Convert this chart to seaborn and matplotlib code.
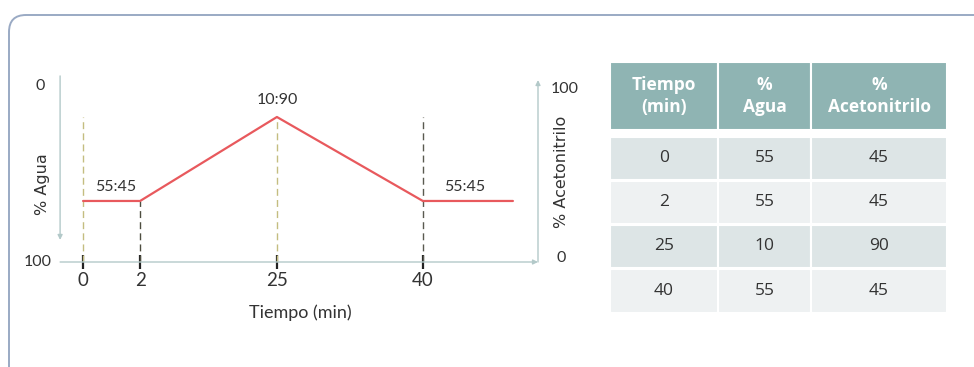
import numpy as np
import pandas as pd
import matplotlib.pyplot as plt
from matplotlib.patches import FancyBboxPatch, Rectangle
import seaborn as sns

# datos del gradiente
tiempo = [0, 2, 25, 40]
agua = [55, 55, 10, 55]
acetonitrilo = [45, 45, 90, 45]
# posicion esquematica de cada tiempo en el eje (el dibujo no esta a escala)
x_pos = [0, 1, 3.4, 5.96]
x_fin = 7.54
etiquetas = ['55:45', '10:90', '55:45']
encabezados = ['Tiempo\n(min)', '%\nAgua', '%\nAcetonitrilo']

sns.set_style('white')
plt.rcParams['font.family'] = ['Lato', 'DejaVu Sans']

W, H = 974, 367
fig = plt.figure(figsize=(W / 100, H / 100), dpi=100)

# capa de fondo en pixeles: marco redondeado y tabla
bg = fig.add_axes([0, 0, 1, 1], zorder=0)
bg.set_xlim(0, W)
bg.set_ylim(H, 0)
bg.axis('off')
bg.add_patch(FancyBboxPatch((9, 15), 1000, 380,
                            boxstyle='round,pad=0,rounding_size=17',
                            fc='white', ec='#9aaac4', lw=1.4))

col_x = [610, 718, 811, 947]
head_y = (62, 130)
row_y = [(137, 180), (181, 224), (225, 268), (269, 313)]
row_col = ['#dde5e6', '#eef1f2', '#dde5e6', '#eef1f2']
tabla = list(zip(tiempo, agua, acetonitrilo))

for j, txt in enumerate(encabezados):
    x0, x1 = col_x[j], col_x[j + 1]
    bg.add_patch(Rectangle((x0, head_y[0]), x1 - x0, head_y[1] - head_y[0],
                           fc='#8fb4b3', ec='white', lw=1.5))
    bg.text((x0 + x1) / 2, sum(head_y) / 2, txt, ha='center', va='center',
            color='white', fontsize=12.5, fontweight='bold',
            family='Open Sans', linespacing=1.3)

for i, fila in enumerate(tabla):
    y0, y1 = row_y[i]
    for j, val in enumerate(fila):
        x0, x1 = col_x[j], col_x[j + 1]
        bg.add_patch(Rectangle((x0, y0), x1 - x0, y1 - y0,
                               fc=row_col[i], ec='white', lw=1.5))
        bg.text((x0 + x1) / 2, (y0 + y1) / 2, str(val), ha='center',
                va='center', color='#333333', fontsize=12.5, family='Open Sans')

# grafico del gradiente
ax = fig.add_axes([62 / W, 1 - 262 / H, 476 / W, 187 / H], zorder=1)
ax.patch.set_alpha(0)
ymin, ymax = 12.3, 112.5
ax.set_xlim(-0.37, 7.98)
ax.set_ylim(ymin, ymax)

df = pd.DataFrame({'x': x_pos + [x_fin],
                   'acn': acetonitrilo + [acetonitrilo[-1]]})
sns.lineplot(data=df, x='x', y='acn', color='#e8595d', lw=1.6, ax=ax,
             sort=False, zorder=3)

dash_full = [True, False, True, True]
dash_col = ['#c4bd80', '#4d4d3f', '#c4bd80', '#5a5a50']
for x, y, full, c in zip(x_pos, acetonitrilo, dash_full, dash_col):
    top = max(acetonitrilo) if full else y
    ax.vlines(x, ymin, top, colors=c, linestyles=(0, (5, 3)), lw=1.0, zorder=2)

# etiquetas de composicion
ax.annotate(etiquetas[0], ((x_pos[0] + x_pos[1]) / 2, acetonitrilo[0]),
            xytext=(3, 10), textcoords='offset points', ha='center',
            va='center', fontsize=11.5, color='#333333')
ax.annotate(etiquetas[1], (x_pos[2], acetonitrilo[2]),
            xytext=(0, 12), textcoords='offset points', ha='center',
            va='center', fontsize=11.5, color='#333333')
ax.annotate(etiquetas[2], ((x_pos[3] + x_fin) / 2, acetonitrilo[3]),
            xytext=(-2, 10), textcoords='offset points', ha='center',
            va='center', fontsize=11.5, color='#333333')

sns.despine(ax=ax, left=True, bottom=True)
ax.set_xticks(x_pos)
ax.set_xticklabels([str(t) for t in tiempo], fontsize=13.5, color='#333333')
ax.tick_params(axis='x', direction='inout', length=10, width=1.6,
               color='#222222', pad=2, bottom=True)
ax.set_yticks([])
ax.set_xlabel('Tiempo (min)', fontsize=13, color='#333333', labelpad=11)
ax.set_ylabel('')

arrow = dict(arrowstyle='-|>', color='#b3c9c9', lw=1.0, mutation_scale=7,
             shrinkA=0, shrinkB=0)
ax.annotate('', xy=(1.0, 0), xytext=(-0.004, 0), xycoords='axes fraction',
            arrowprops=arrow, annotation_clip=False)
ax.annotate('', xy=(-0.004, 0.118), xytext=(-0.004, 0.995),
            xycoords='axes fraction', arrowprops=arrow, annotation_clip=False)
ax.annotate('', xy=(1.0, 0.973), xytext=(1.0, 0), xycoords='axes fraction',
            arrowprops=arrow, annotation_clip=False)

# rotulos de los ejes verticales
def ftxt(px, py, s, **kw):
    fig.text(px / W, 1 - py / H, s, ha='center', va='center',
             color='#333333', **kw)

ftxt(40, 86, '0', fontsize=11.5)
ftxt(38, 262, '100', fontsize=11.5)
ftxt(42, 184, '% Agua', fontsize=11.5, rotation=90, family='DejaVu Sans')
ftxt(565, 89, '100', fontsize=11.5)
ftxt(561, 258, '0', fontsize=11.5)
ftxt(562, 172, '% Acetonitrilo', fontsize=11.5, rotation=90,
     family='DejaVu Sans')

fig.savefig('out.png', dpi=100)
